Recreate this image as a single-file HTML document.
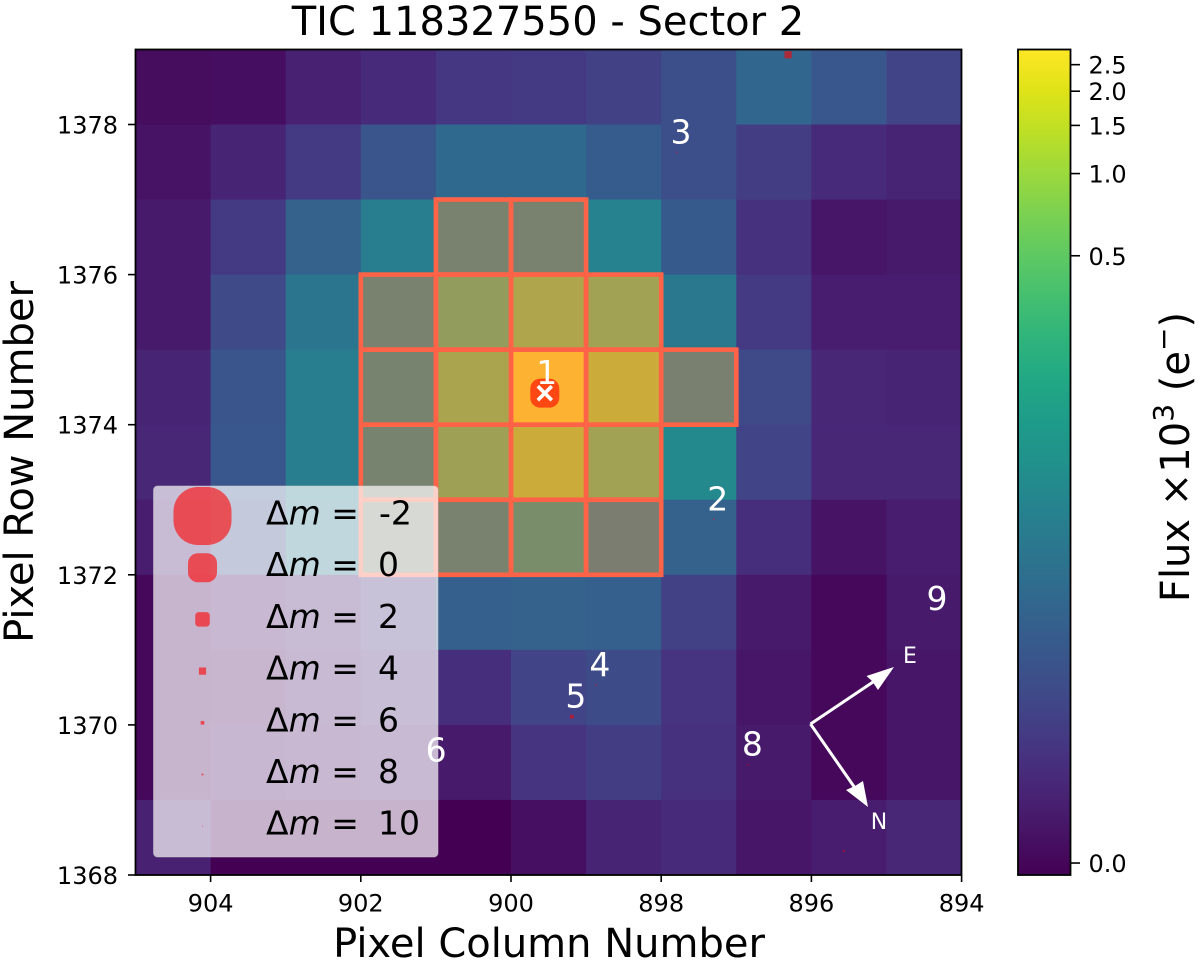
<!DOCTYPE html>
<html>
<head>
<meta charset="utf-8">
<title>TIC 118327550 - Sector 2</title>
<style>
html,body{margin:0;padding:0;background:#fff;}
svg{display:block;}
text{font-family:"DejaVu Sans","Liberation Sans",sans-serif;}
</style>
</head>
<body>
<svg id="fig" xmlns="http://www.w3.org/2000/svg" width="1200" height="963" viewBox="0 0 1200 963">
  <defs>
    <linearGradient id="viridis-grad" x1="0" y1="1" x2="0" y2="0"></linearGradient>
  </defs>
  <text x="548" y="35" font-size="40" text-anchor="middle" fill="#000">TIC 118327550 - Sector 2</text>
  <g id="heatmap"></g>
  <g id="aperture"></g>
  <g id="stars"></g>
  <g id="legend">
    <rect x="153.5" y="486" width="284.5" height="371" rx="4" fill="#fff" fill-opacity="0.7" stroke="#ccc" stroke-opacity="0.5" stroke-width="1"></rect>
  </g>
  <g id="star-labels"></g>
  <g id="compass">
    <line x1="810.5" y1="724" x2="876" y2="680" stroke="#fff" stroke-width="3"></line>
    <polygon points="894,667 878,690 872,681 866.5,676" fill="#fff"></polygon>
    <line x1="810.5" y1="724" x2="855" y2="788" stroke="#fff" stroke-width="3"></line>
    <polygon points="868,807 846,790 855,786 863,781" fill="#fff"></polygon>
    <text x="910" y="663" font-size="22" text-anchor="middle" fill="#fff">E</text>
    <text x="879" y="829" font-size="22" text-anchor="middle" fill="#fff">N</text>
  </g>
  <rect x="135.5" y="49.5" width="826" height="825.5" fill="none" stroke="#000" stroke-width="1.8"></rect>
  <g id="x-axis"></g>
  <g id="y-axis"></g>
  <text x="549" y="957" font-size="40" text-anchor="middle" fill="#000">Pixel Column Number</text>
  <text transform="translate(33,462) rotate(-90)" font-size="40" text-anchor="middle" fill="#000">Pixel Row Number</text>
  <rect x="1018" y="49.5" width="52.5" height="825.5" fill="url(#viridis-grad)"></rect>
  <rect x="1018" y="49.5" width="52.5" height="825.5" fill="none" stroke="#000" stroke-width="1.8"></rect>
  <g id="colorbar-axis"></g>
  <text transform="translate(1189,457) rotate(-90)" font-size="40" text-anchor="middle" fill="#000">Flux ×10<tspan font-size="28" dy="-16">3</tspan><tspan dy="16"> (e</tspan><tspan font-size="28" dy="-16">−</tspan><tspan dy="16">)</tspan></text>
</svg>
<script>
// Flux per pixel in electrons; first row is the top of the image (row 1378), first column is 904.
var fluxRow1378 = [0.35, 0.47, 2.11, 3.31, 5.35, 5.95, 7.3, 11.6, 24.3, 15, 8.04];
var fluxRow1377 = [0.86, 2.48, 5.95, 13.8, 26.2, 26.2, 17.7, 11.6, 6.6, 3.31, 2.48];
var fluxRow1376 = [1.44, 5.95, 20.8, 48, 99, 99, 55.6, 16.3, 4.26, 1.14, 1.44];
var fluxRow1375 = [1.44, 9.69, 38.4, 99, 378, 707, 536, 41.4, 5.95, 1.76, 1.76];
var fluxRow1374 = [2.48, 13.8, 48, 106, 660, 2840, 1151, 92, 9.69, 2.88, 2.48];
var fluxRow1373 = [2.88, 15, 48, 106, 500, 1151, 536, 69, 8.04, 2.88, 2.88];
var fluxRow1372 = [1.76, 9.69, 41.4, 99, 99, 175, 80, 20.8, 3.77, 0.86, 1.76];
var fluxRow1371 = [0.12, 0.86, 2.11, 4.78, 19.2, 20.8, 19.2, 7.3, 1.44, 0.12, 1.44];
var fluxRow1370 = [0.12, 0.35, 1.44, 3.31, 3.77, 8.04, 10.6, 4.78, 1.14, 0.12, 1.14];
var fluxRow1369 = [0.12, 0.59, 0.86, 1.44, 1.44, 4.78, 6.6, 4.26, 1.44, 0.12, 1.14];
var fluxRow1368 = [2.11, -0.29, -0.29, -0.29, -0.29, 0.59, 2.48, 3.31, 1.14, 1.76, 2.88];
var fluxRows = [fluxRow1378, fluxRow1377, fluxRow1376, fluxRow1375, fluxRow1374, fluxRow1373, fluxRow1372, fluxRow1371, fluxRow1370, fluxRow1369, fluxRow1368];

// Aperture membership for the same grid (1 = in aperture).
var apertureRows = [
  [0,0,0,0,0,0,0,0,0,0,0],
  [0,0,0,0,0,0,0,0,0,0,0],
  [0,0,0,0,1,1,0,0,0,0,0],
  [0,0,0,1,1,1,1,0,0,0,0],
  [0,0,0,1,1,1,1,1,0,0,0],
  [0,0,0,1,1,1,1,0,0,0,0],
  [0,0,0,1,1,1,1,0,0,0,0],
  [0,0,0,0,0,0,0,0,0,0,0],
  [0,0,0,0,0,0,0,0,0,0,0],
  [0,0,0,0,0,0,0,0,0,0,0],
  [0,0,0,0,0,0,0,0,0,0,0]
];

var starColumns = [899.55, 897.30, 897.79, 898.87, 899.19, 901.05, 896.84, 894.38, 896.31, 895.57];
var starRowsPos = [1374.42, 1372.74, 1377.63, 1370.53, 1370.11, 1369.39, 1369.47, 1371.41, 1378.93, 1368.32];
var starMags    = [0, 9, 9, 9, 6, 10, 9, 10, 4, 8];
var starNames   = ['1', '2', '3', '4', '5', '6', '8', '9', '', ''];

var legendMags = [-2, 0, 2, 4, 6, 8, 10];

var xTickValues = [904, 902, 900, 898, 896, 894];
var yTickValues = [1368, 1370, 1372, 1374, 1376, 1378];
var cbarTickValues = [0.0, 0.5, 1.0, 1.5, 2.0, 2.5];
var cbarTickLabels = ['0.0', '0.5', '1.0', '1.5', '2.0', '2.5'];

var viridisStops = ['#440154','#471365','#482475','#463480','#414487','#3b528b','#355f8d','#2f6c8e','#2a788e','#25848e','#21918c','#1e9c89','#22a884','#2fb47c','#44bf70','#5ec962','#7ad151','#9bd93c','#bddf26','#dfe318','#fde725'];

var SVG_NS = 'http://www.w3.org/2000/svg';
function xPos(col) { return 135.5 + (905 - col) * 75.1; }
function yPos(row) { return 875 - (row - 1368) * 75.05; }
// Colour normalisation: log-like stretch fitted to the colorbar tick spacing.
function norm(fluxE) { return 0.0145 + 0.1 * Math.log2(1 + fluxE / 3.07); }
function cbarY(fluxE) { return 875 - norm(fluxE) * 825.5; }
function hexToRgb(h) { return [parseInt(h.substr(1,2),16), parseInt(h.substr(3,2),16), parseInt(h.substr(5,2),16)]; }
function viridis(t) {
  t = Math.max(0, Math.min(1, t));
  var p = t * (viridisStops.length - 1), i = Math.min(Math.floor(p), viridisStops.length - 2), f = p - i;
  var a = hexToRgb(viridisStops[i]), b = hexToRgb(viridisStops[i + 1]);
  return 'rgb(' + Math.round(a[0] + (b[0] - a[0]) * f) + ',' + Math.round(a[1] + (b[1] - a[1]) * f) + ',' + Math.round(a[2] + (b[2] - a[2]) * f) + ')';
}
function markerSize(dm) { return 29 * Math.pow(2, -dm / 2); }
function markerRound(dm) { return dm <= -2 ? 0.42 : dm <= 0 ? 0.34 : dm <= 2 ? 0.24 : 0.08; }
function make(tag, attrs, parent) {
  var el = document.createElementNS(SVG_NS, tag);
  for (var k in attrs) { el.setAttribute(k, attrs[k]); }
  parent.appendChild(el);
  return el;
}

// Colorbar gradient
var grad = document.getElementById('viridis-grad');
viridisStops.forEach(function (c, i) {
  make('stop', { offset: (i / (viridisStops.length - 1)), 'stop-color': c }, grad);
});

// Heatmap cells and aperture
var heatG = document.getElementById('heatmap');
var apG = document.getElementById('aperture');
fluxRows.forEach(function (rowVals, r) {
  rowVals.forEach(function (v, c) {
    var col = 905 - c, row = 1379 - r;
    var cell = make('rect', { x: xPos(col), y: yPos(row), width: 75.1 + 0.4, height: 75.05 + 0.4, fill: viridis(norm(v)) }, heatG);
    
    
  });
});
apertureRows.forEach(function (rowVals, r) {
  rowVals.forEach(function (v, c) {
    if (!v) { return; }
    var col = 905 - c, row = 1379 - r;
    var fillCell = make('rect', { x: xPos(col), y: yPos(row), width: 75.1, height: 75.05, fill: '#ff6347', 'fill-opacity': 0.4 }, apG);
    
    
  });
});
apertureRows.forEach(function (rowVals, r) {
  rowVals.forEach(function (v, c) {
    if (!v) { return; }
    var col = 905 - c, row = 1379 - r;
    var edge = make('rect', { x: xPos(col), y: yPos(row), width: 75.1, height: 75.05, fill: 'none', stroke: '#ff6347', 'stroke-width': 4.6 }, apG);
    
    
  });
});

// Stars
var starG = document.getElementById('stars');
var labelG = document.getElementById('star-labels');
starColumns.forEach(function (col, i) {
  var d = markerSize(starMags[i]);
  var cx = xPos(col), cy = yPos(starRowsPos[i]);
  var m = make('rect', { x: cx - d / 2, y: cy - d / 2, width: d, height: d, rx: d * markerRound(starMags[i]), fill: '#ff0000', 'fill-opacity': 0.6 }, starG);
  
  
  if (starNames[i]) {
    var t = make('text', { x: cx + (i === 0 ? 2 : 4), y: cy - 9, 'font-size': 33, 'text-anchor': 'middle', fill: '#fff' }, labelG);
    t.textContent = starNames[i];
    
    
  }
});
// Target cross on the first star
var tx = xPos(starColumns[0]), ty = yPos(starRowsPos[0]);
var cross1 = make('line', { x1: tx - 7, y1: ty - 7, x2: tx + 7, y2: ty + 7, stroke: '#fff', 'stroke-width': 3.6 }, labelG);


var cross2 = make('line', { x1: tx - 7, y1: ty + 7, x2: tx + 7, y2: ty - 7, stroke: '#fff', 'stroke-width': 3.6 }, labelG);



// Legend
var legG = document.getElementById('legend');
legendMags.forEach(function (dm, i) {
  var y = 516 + i * 51.7;
  var d = markerSize(dm);
  var lm = make('rect', { x: 202.5 - d / 2, y: y - d / 2, width: d, height: d, rx: d * markerRound(dm), fill: '#ff0000', 'fill-opacity': 0.6 }, legG);
  
  
  var lt = make('text', { x: 266, y: y + 8.5, 'font-size': 33, fill: '#000' }, legG);
  
  
  lt.textContent = 'Δ';
  var mSpan = make('tspan', { 'font-style': 'italic' }, lt);
  mSpan.textContent = 'm';
  var eq = make('tspan', { dx: 10.5 }, lt);
  eq.textContent = '=';
  var lv = make('text', { x: dm < 0 ? 379 : 378, y: y + 8.5, 'font-size': 33, fill: '#000' }, legG);
  
  
  lv.textContent = String(dm);
});

// Axes
var xG = document.getElementById('x-axis');
xTickValues.forEach(function (v) {
  var x = xPos(v);
  var tk = make('line', { x1: x, y1: 875, x2: x, y2: 882, stroke: '#000', 'stroke-width': 1.6 }, xG);
  
  
  var lb = make('text', { x: x, y: 911.5, 'font-size': 24, 'text-anchor': 'middle', fill: '#000' }, xG);
  
  
  lb.textContent = String(v);
});
var yG = document.getElementById('y-axis');
yTickValues.forEach(function (v) {
  var y = yPos(v);
  var tk = make('line', { x1: 128, y1: y, x2: 135.5, y2: y, stroke: '#000', 'stroke-width': 1.6 }, yG);
  
  
  var lb = make('text', { x: 118, y: y + 9, 'font-size': 24, 'text-anchor': 'end', fill: '#000' }, yG);
  
  
  lb.textContent = String(v);
});
var cG = document.getElementById('colorbar-axis');
cbarTickValues.forEach(function (v, i) {
  var y = cbarY(v * 1000);
  var tk = make('line', { x1: 1070.5, y1: y, x2: 1080, y2: y, stroke: '#000', 'stroke-width': 1.6 }, cG);
  
  
  var lb = make('text', { x: 1088.5, y: y + 9, 'font-size': 24, fill: '#000' }, cG);
  
  
  lb.textContent = cbarTickLabels[i];
});
</script>
</body>
</html>
